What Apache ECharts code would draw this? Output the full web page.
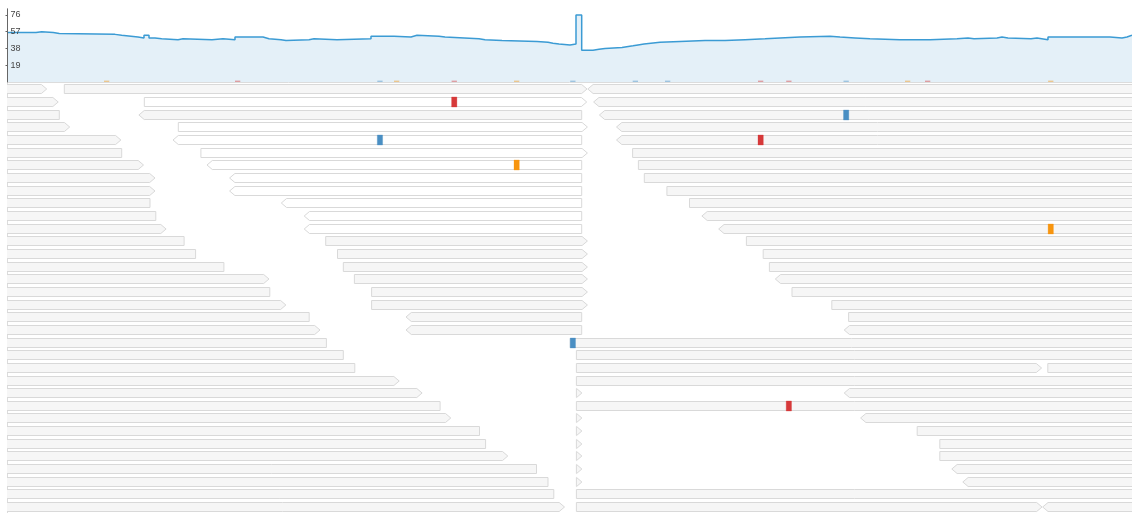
<!DOCTYPE html>
<html>
<head>
<meta charset="utf-8">
<script src="https://cdn.jsdelivr.net/npm/echarts@6/dist/echarts.min.js"></script>
<style>
  html, body { margin: 0; padding: 0; background: #fff; }
  #chart { width: 1132px; height: 513px; }
</style>
</head>
<body>
<div id="chart"></div>
<script>
// ---- Region shown (position units along the reference) ----
const VIEW_START = 0;
const VIEW_END = 1124.5;
const OUT_L = -40;    // read starts before the view
const OUT_R = 1200;   // read continues past the view
const BASE_W = 5.3;   // width of one base

// ---- Coverage track: [position where the depth changes, depth] ----
const coverage = [
  [0.5, 56], [28.5, 57], [34.2, 56], [45.8, 55], [51.8, 54], [107.5, 53], [114.2, 51],
  [130.5, 50], [136.5, 53], [141.5, 50], [147.5, 49], [154.2, 48], [170.5, 49], [175.5, 48],
  [204.5, 49], [215.5, 48], [227.5, 51], [255.5, 49], [261.5, 48], [273.5, 47], [278.5, 48],
  [301.5, 49], [306.5, 48], [329.5, 49], [363.5, 52], [386.5, 51], [403.5, 53], [409.5, 52],
  [431.5, 51], [437.5, 49], [471.5, 48], [477.5, 47], [494.5, 46], [529.5, 45], [540.5, 44],
  [545.5, 43], [551.5, 42], [562.5, 43], [568.5, 76], [574.2, 36], [585.5, 37], [591.5, 38],
  [597.5, 39], [614.5, 41], [625.5, 42], [630.5, 43], [636.5, 45], [652.5, 46], [672.5, 47],
  [697.5, 47], [717.5, 48], [737.5, 49], [757.5, 50], [772.5, 51], [792.5, 52], [822.5, 51],
  [832.5, 50], [847.5, 49], [862.5, 48], [892.5, 48], [922.5, 49], [949.5, 50], [960.5, 49],
  [966.5, 50], [989.5, 51], [994.5, 50], [1000.5, 49], [1023.5, 50], [1029.5, 48], [1040.5, 51],
  [1102.5, 50], [1114.5, 51], [1119.5, 53], [VIEW_END, 53]
];
const coverageMax = 83;
const coverageTickLabels = [19, 38, 57, 76];

// ---- Mismatch tallies in the coverage track: [position, base, count] ----
const mismatchTally = [
  [96.5, 'G', 1], [227.5, 'T', 1], [369.8, 'C', 1], [386.5, 'G', 1], [444.1, 'T', 1],
  [506.5, 'G', 1], [562.7, 'C', 1], [625.2, 'C', 1], [657.5, 'C', 1], [750.5, 'T', 1],
  [778.7, 'T', 1], [836.0, 'C', 1], [897.5, 'G', 1], [917.5, 'T', 1], [1040.6, 'G', 1]
];

// ---- Aligned reads: [row, start, end, strand (1 fwd / -1 rev), lowMapq] ----
const reads = [
  [0, OUT_L, 39.2, 1, 0], [0, 56.8, 579.5, 1, 0], [0, 580.3, OUT_R, -1, 0],
  [1, OUT_L, 50.7, 1, 0], [1, 136.8, 579.2, 1, 1], [1, 586.1, OUT_R, -1, 0],
  [2, OUT_L, 51.8, -1, 0], [2, 131.4, 574.2, -1, 0], [2, 591.9, OUT_R, -1, 0],
  [3, OUT_L, 62.2, 1, 0], [3, 170.8, 579.9, 1, 1], [3, 609.0, OUT_R, -1, 0],
  [4, OUT_L, 113.4, 1, 0], [4, 165.5, 574.2, -1, 1], [4, 609.0, OUT_R, -1, 0],
  [5, OUT_L, 114.2, -1, 0], [5, 193.4, 579.9, 1, 1], [5, 625.1, OUT_R, 1, 0],
  [6, OUT_L, 136.0, 1, 0], [6, 199.5, 574.2, -1, 1], [6, 630.9, OUT_R, 1, 0],
  [7, OUT_L, 147.5, 1, 0], [7, 222.1, 574.2, -1, 1], [7, 636.8, OUT_R, 1, 0],
  [8, OUT_L, 147.5, 1, 0], [8, 222.1, 574.2, -1, 1], [8, 659.4, OUT_R, 1, 0],
  [9, OUT_L, 142.5, -1, 0], [9, 273.8, 574.2, -1, 1], [9, 682.0, OUT_R, 1, 0],
  [10, OUT_L, 148.3, -1, 0], [10, 296.7, 574.2, -1, 1], [10, 694.4, OUT_R, -1, 0],
  [11, OUT_L, 158.6, 1, 0], [11, 296.7, 574.2, -1, 1], [11, 711.2, OUT_R, -1, 0],
  [12, OUT_L, 176.6, -1, 0], [12, 318.2, 579.9, 1, 0], [12, 738.9, OUT_R, 1, 0],
  [13, OUT_L, 188.1, -1, 0], [13, 330.0, 579.9, 1, 0], [13, 755.7, OUT_R, 1, 0],
  [14, OUT_L, 216.4, -1, 0], [14, 335.8, 579.9, 1, 0], [14, 761.9, OUT_R, 1, 0],
  [15, OUT_L, 261.5, 1, 0], [15, 346.9, 579.9, 1, 0], [15, 767.8, OUT_R, -1, 0],
  [16, OUT_L, 262.3, -1, 0], [16, 364.1, 579.9, 1, 0], [16, 784.5, OUT_R, 1, 0],
  [17, OUT_L, 278.4, 1, 0], [17, 364.1, 579.9, 1, 0], [17, 824.3, OUT_R, 1, 0],
  [18, OUT_L, 301.7, -1, 0], [18, 398.5, 574.2, -1, 0], [18, 841.1, OUT_R, 1, 0],
  [19, OUT_L, 312.5, 1, 0], [19, 398.5, 574.2, -1, 0], [19, 836.7, OUT_R, -1, 0],
  [20, OUT_L, 318.9, -1, 0], [20, 562.7, OUT_R, 1, 0],
  [21, OUT_L, 335.8, -1, 0], [21, 568.9, OUT_R, 1, 0],
  [22, OUT_L, 347.3, -1, 0], [22, 568.9, 1034.1, 1, 0], [22, 1040.3, OUT_R, 1, 0],
  [23, OUT_L, 391.7, 1, 0], [23, 568.9, OUT_R, 1, 0],
  [24, OUT_L, 414.6, 1, 0], [24, 568.9, 574.4, 1, 0], [24, 836.7, OUT_R, -1, 0],
  [25, OUT_L, 432.6, -1, 0], [25, 568.9, OUT_R, 1, 0],
  [26, OUT_L, 443.3, 1, 0], [26, 568.9, 574.4, 1, 0], [26, 853.1, OUT_R, -1, 0],
  [27, OUT_L, 472.0, -1, 0], [27, 568.9, 574.4, 1, 0], [27, 909.7, OUT_R, 1, 0],
  [28, OUT_L, 478.1, -1, 0], [28, 568.9, 574.4, 1, 0], [28, 932.3, OUT_R, 1, 0],
  [29, OUT_L, 500.3, 1, 0], [29, 568.9, 574.4, 1, 0], [29, 932.3, OUT_R, 1, 0],
  [30, OUT_L, 529.0, -1, 0], [30, 568.9, 574.4, 1, 0], [30, 944.3, OUT_R, -1, 0],
  [31, OUT_L, 540.5, -1, 0], [31, 568.9, 574.4, 1, 0], [31, 955.3, OUT_R, -1, 0],
  [32, OUT_L, 546.3, -1, 0], [32, 568.9, OUT_R, 1, 0],
  [33, OUT_L, 557.0, 1, 0], [33, 568.9, 1034.5, 1, 0], [33, 1035.2, OUT_R, -1, 0]
];

// ---- Mismatched bases inside reads: [row, position, base] ----
const mismatches = [
  [1, 444.1, 'T'], [2, 836.0, 'C'], [4, 369.8, 'C'], [4, 750.5, 'T'],
  [6, 506.5, 'G'], [11, 1040.6, 'G'], [20, 562.7, 'C'], [25, 778.7, 'T']
];

// ---- Styling ----
const BASE_COLORS = { A: '#3aa845', C: '#4a8fc3', G: '#f7950f', T: '#d6393a' };
const ROW_PITCH = 12.66;   // pixels per pileup row
const READ_H = 10;         // read height in pixels
const ARROW = 5.3;         // arrow-head length along the axis
const READS_TOP = 83;
const CHART_H = 513;

const chart = echarts.init(document.getElementById('chart'), null, { renderer: 'canvas' });

function hexA(hex, a) {
  const n = parseInt(hex.slice(1), 16);
  return `rgba(${(n >> 16) & 255},${(n >> 8) & 255},${n & 255},${a})`;
}

function renderRead(params, api) {
  const r = reads[params.dataIndex];
  const [row, s, e, strand, lowMapq] = r;
  const yc = api.coord([0, row + 0.5])[1];
  const top = Math.round(yc - READ_H / 2) + 0.5;
  const bot = top + READ_H - 1;
  const mid = (top + bot) / 2;
  const xs = api.coord([s, 0])[0];
  const xe = api.coord([e, 0])[0];
  const aw = api.size([ARROW, 0])[0];
  let pts;
  if (strand > 0) {
    const b = Math.max(xs, xe - aw);
    pts = [[xs, top], [b, top], [xe, mid], [b, bot], [xs, bot]];
  } else {
    const b = Math.min(xe, xs + aw);
    pts = [[xs, mid], [b, top], [xe, top], [xe, bot], [b, bot]];
  }
  return {
    type: 'polygon',
    shape: { points: pts },
    style: { fill: lowMapq ? '#ffffff' : '#f6f6f6', stroke: '#d9d9d9', lineWidth: 1 }
  };
}

function renderMismatch(params, api) {
  const m = mismatches[params.dataIndex];
  const yc = api.coord([0, m[0] + 0.5])[1];
  const top = Math.round(yc - READ_H / 2);
  const x0 = api.coord([m[1], 0])[0];
  const w = api.size([BASE_W, 0])[0];
  const c = BASE_COLORS[m[2]];
  return {
    type: 'rect',
    shape: { x: x0, y: top, width: w, height: READ_H },
    style: { fill: c, stroke: hexA(c, 0.6), lineWidth: 0.5 }
  };
}

function renderTally(params, api) {
  const t = mismatchTally[params.dataIndex];
  const p0 = api.coord([t[0], 0]);
  const p1 = api.coord([t[0], t[2]]);
  const w = api.size([BASE_W, 0])[0];
  return {
    type: 'rect',
    shape: { x: p0[0], y: p1[1] - 0.5, width: w, height: p0[1] - p1[1] + 0.5 },
    style: { fill: hexA(BASE_COLORS[t[1]], 0.45) }
  };
}

const option = {
  animation: false,
  backgroundColor: '#ffffff',
  grid: [
    { left: 7.5, right: 0, top: 82 - coverageMax * 0.882, height: coverageMax * 0.882 },
    { left: 7.5, right: 0, top: READS_TOP, height: CHART_H - READS_TOP }
  ],
  xAxis: [
    {
      gridIndex: 0, type: 'value', min: VIEW_START, max: VIEW_END,
      axisLine: { show: true, lineStyle: { color: '#dcdcdc', width: 1 } },
      axisTick: { show: false }, axisLabel: { show: false }, splitLine: { show: false }
    },
    {
      gridIndex: 1, type: 'value', min: VIEW_START, max: VIEW_END, show: false
    }
  ],
  yAxis: [
    {
      gridIndex: 0, type: 'value', min: 0, max: coverageMax, z: 10,
      axisLine: { show: true, lineStyle: { color: '#666', width: 1 } },
      axisTick: { show: true, inside: false, length: 2, customValues: coverageTickLabels,
                  lineStyle: { color: '#666' } },
      axisLabel: { show: true, inside: true, margin: 3, customValues: coverageTickLabels,
                   fontSize: 9, color: '#444', fontFamily: 'Helvetica, Arial, sans-serif' },
      splitLine: { show: false }
    },
    {
      gridIndex: 1, type: 'value', inverse: true, min: 0,
      max: (CHART_H - READS_TOP) / ROW_PITCH,
      axisLine: { show: true, lineStyle: { color: '#dcdcdc', width: 1 } },
      axisTick: { show: false }, axisLabel: { show: false }, splitLine: { show: false }
    }
  ],
  series: [
    {
      name: 'coverage', type: 'line', xAxisIndex: 0, yAxisIndex: 0,
      step: 'end', data: coverage, symbol: 'none', silent: true,
      lineStyle: { color: '#3b9bd4', width: 1.5 },
      areaStyle: { color: '#e4f0f8', opacity: 1 },
      z: 2
    },
    {
      name: 'mismatch tally', type: 'custom', xAxisIndex: 0, yAxisIndex: 0,
      data: mismatchTally.map(t => [t[0], t[2]]), renderItem: renderTally, silent: true, z: 3
    },
    {
      name: 'reads', type: 'custom', xAxisIndex: 1, yAxisIndex: 1, clip: true,
      data: reads.map(r => [r[1], r[0]]), renderItem: renderRead, silent: true, z: 2
    },
    {
      name: 'mismatches', type: 'custom', xAxisIndex: 1, yAxisIndex: 1, clip: true,
      data: mismatches.map(m => [m[1], m[0]]), renderItem: renderMismatch, silent: true, z: 3
    }
  ]
};

chart.setOption(option);
</script>
</body>
</html>
